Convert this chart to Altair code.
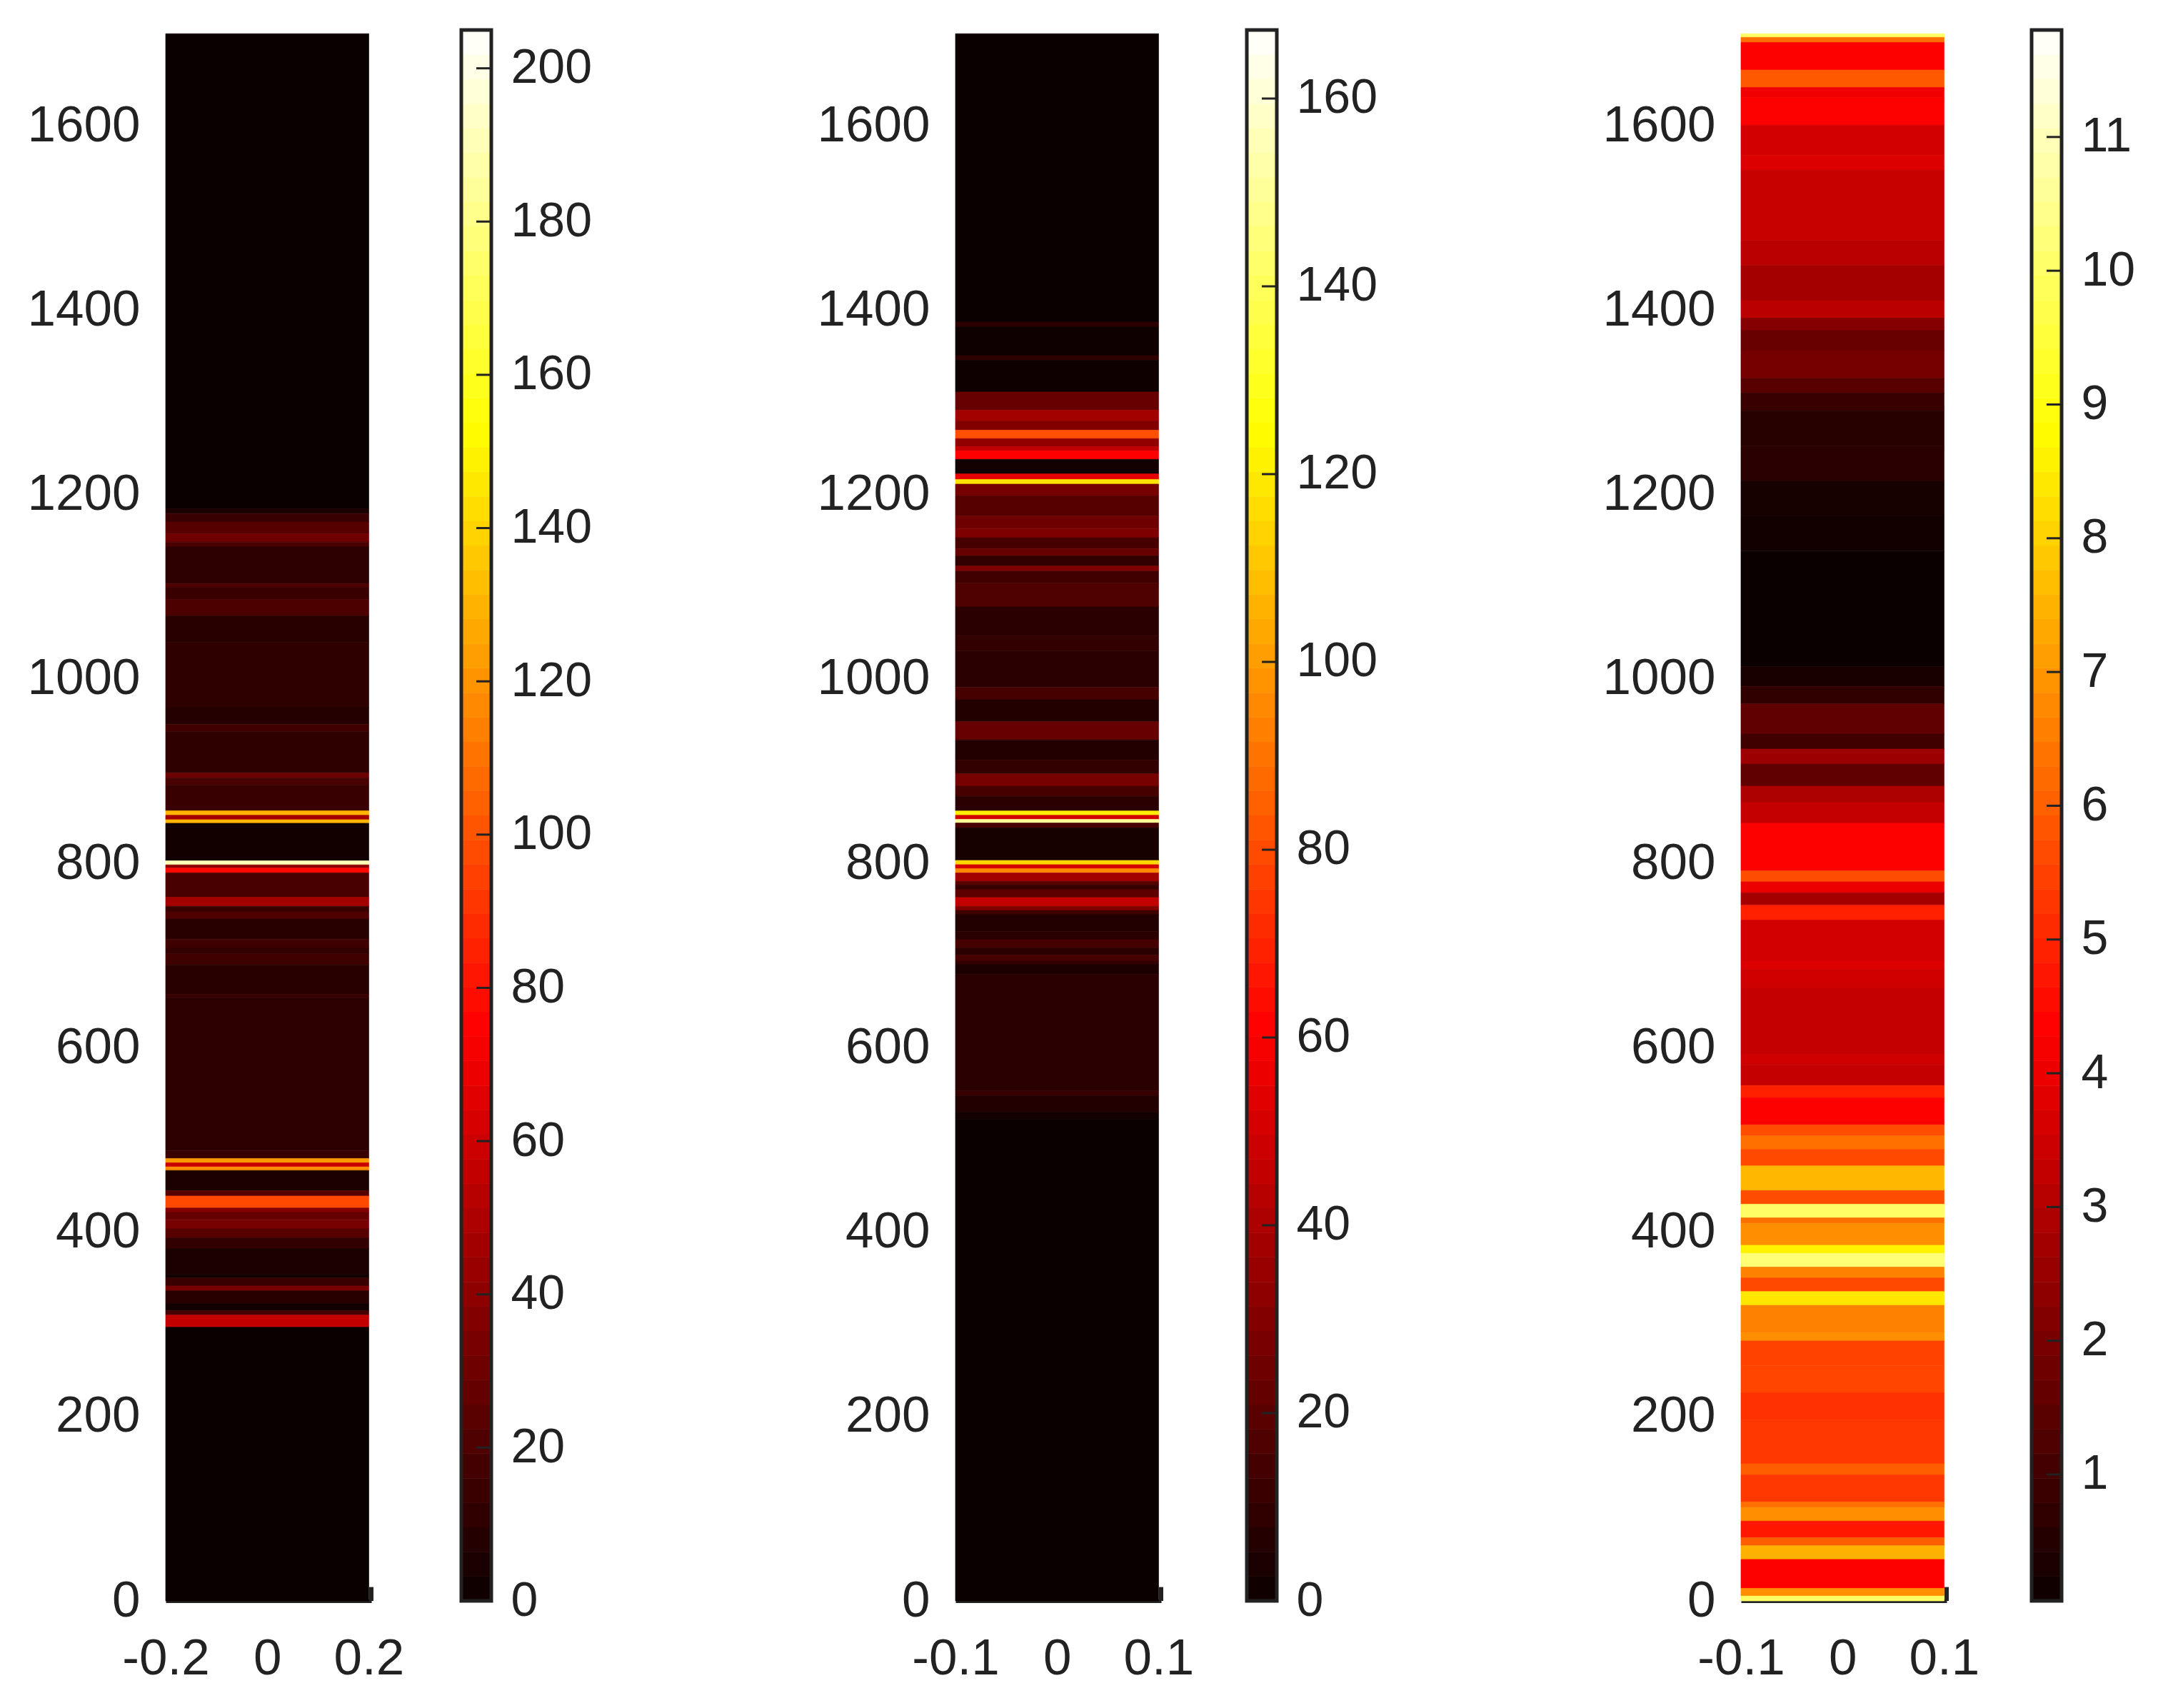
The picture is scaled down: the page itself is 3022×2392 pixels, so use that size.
import altair as alt
import numpy as np
import pandas as pd

# Band edges (depth values, top to bottom) and band intensity
edges1 = [1700,1184.6,1179.5,1170.4,1157.5,1148.5,1143.3,1103.3,1099.4,1086.5,1068.4,1040,969,951,943.2,898,892.9,885.1,857,852.2,847.4,843.5,802.8,798.4,794.9,789.7,763.3,753.4,747.5,739.6,717.8,707.9,702,690,658,654,488.6,479.9,475.2,470.8,466.9,445.1,439.2,426.2,421.4,413.5,403.6,393.8,381.9,354.2,350.3,341.6,336.4,322.6,314.7,310,296.9,0]
values1 = [0,5,14,23,31,19,10,21,14,20,9,11,8,16,11,30,19,14,130,47,130,2,190,40,78,19,47,14,21,9,16,12,16,9,14,10.5,14,122,58,118,5,23,97,37,28,33,23,12,5,2,14,33,9,2,19,56,0]

edges2 = [1700,1387.3,1381.7,1350.9,1345.8,1311.4,1291.6,1280,1269.9,1260.8,1252.1,1247.4,1238.3,1222.5,1216.5,1211.4,1198.8,1177,1163.2,1153.3,1141.5,1133.5,1122.5,1117,1103.9,1078.2,1046.6,1030.8,991.3,977.4,953.7,934,912.2,897.2,883.8,872.7,856.9,852.2,847.8,843.8,838.6,803.2,798.6,794.2,789.6,780.5,776.6,771.5,763,753.4,749,744.4,726.3,717.3,708.2,700.5,694,690.2,679.8,553.3,548.1,530.1,522.3,0]
values2 = [0,8,1,9,1,23,38,30,81,34,46,61,2,55,118,27,19,25,29,15,23,10,29,13,17,8,10,8,15,6,23,6,10,27,15,8,120,50,150,15,3,115,50,95,38,19,11,21,46,30,13,6,8,15,8,15,10,4,8,11,6,2,0]

edges3 = [1700,1696,1690.5,1660.6,1641.6,1630.7,1600.8,1568.2,1551.9,1475.8,1448.6,1410.5,1391.5,1378,1356.2,1326.3,1310,1291,1252.9,1214.9,1176.8,1138.7,1013.7,992,973,940.3,924,907.7,883.8,866,843.5,791.9,780,768.2,754.6,738.6,694,685.2,664.5,593.3,581.5,559,545.9,516.3,504.4,489.6,471.8,445.1,430.3,415.5,409.6,385.8,377,362.1,350.3,335.5,320.6,291,282,255.5,225.8,196.1,148.7,136.8,107.2,101.3,86.5,68.7,59.8,45,13.6,5.2,0]
values3 = [10,6.3,4.3,5.9,4.1,4.3,3.55,3.75,3.35,3.15,2.75,3.15,2.2,1.7,1.9,1.4,0.85,0.55,0.6,0.25,0.18,0.06,0.3,0.7,1.55,1.0,2.6,1.55,2.9,3.3,4.3,5.7,4.0,2.75,4.9,3.55,3.75,3.5,3.3,3.5,3.3,4.9,4.3,5.7,6.3,5.6,7.55,5.7,10,6.3,6.85,8.6,10.2,6.6,5.6,8.4,6.6,6.85,5.5,5.55,5.2,5.3,6.0,5.3,6.3,6.85,4.75,6.0,7.45,4.3,6.85,10]

ticks_y = [0,200,400,600,800,1000,1200,1400,1600]
xlim1 = 0.2
xlim2 = 0.1
xticks1 = [-0.2,0,0.2]
xticks2 = [-0.1,0,0.1]
bar_ticks1 = list(range(0,201,20))
bar_ticks2 = list(range(0,161,20))
bar_ticks3 = [1,2,3,4,5,6,7,8,9,10,11]
bar_range1 = (0,205)
bar_range2 = (0,167.3)
bar_range3 = (0.055,11.8)
hot_colors = ["#0b0000","#ff0000","#ffff00","#ffffff"]
hot_stops = [0,0.365,0.746,1]

FONT = "Liberation Sans"
TXT = "#222222"
H = 2200
W = 288
BW = 42
YTOP = 1704


def color_scale(rng):
    lo, hi = rng
    return alt.Scale(domain=[lo+(hi-lo)*s for s in hot_stops], range=hot_colors, interpolate="rgb", clamp=True)


def panel(edges, values, xlim, xticks, rng):
    df = pd.DataFrame({"top":edges[:-1],"bot":edges[1:],"v":values,"x0":-xlim,"x1":xlim})
    xmax = xlim*1.025
    xs = alt.Scale(domain=[-xlim,xmax],nice=False,zero=False)
    ys = alt.Scale(domain=[0,YTOP],nice=False,zero=False)
    xax = alt.Axis(values=xticks,title=None,grid=False,ticks=False,domainColor=TXT,domainWidth=5,labelFont=FONT,labelFontSize=71,labelColor=TXT,labelPadding=46,labelOverlap=False,labelFlush=False,labelExpr="'' + datum.value")
    yax = alt.Axis(values=ticks_y,title=None,grid=False,ticks=False,domain=False,labelFont=FONT,labelFontSize=71,labelColor=TXT,labelPadding=36,labelOverlap=False,format="d")
    rects = alt.Chart(df).mark_rect(strokeWidth=0.7).encode(
        x=alt.X("x0:Q",scale=xs,axis=xax),x2="x1:Q",
        y=alt.Y("top:Q",scale=ys,axis=yax),y2="bot:Q",
        color=alt.Color("v:Q",scale=color_scale(rng),legend=None),
        stroke=alt.Stroke("v:Q",scale=color_scale(rng),legend=None),
    )
    end = alt.Chart(pd.DataFrame({"xe":[xmax],"y0":[0],"y1":[15]})).mark_rule(color=TXT,strokeWidth=6).encode(
        x=alt.X("xe:Q",scale=xs,axis=xax),y=alt.Y("y0:Q",scale=ys,axis=yax),y2="y1:Q")
    return alt.layer(rects,end).properties(width=W,height=H,view=alt.ViewConfig(stroke=None))


def colorbar(rng,ticks):
    lo,hi = rng
    levels = np.linspace(lo,hi,65)
    df = pd.DataFrame({"a":levels[:-1],"b":levels[1:],"v":(levels[:-1]+levels[1:])/2,"x0":0,"x1":1})
    xs = alt.Scale(domain=[0,1],nice=False)
    ys = alt.Scale(domain=[lo,hi],nice=False,zero=False)
    yax = alt.Axis(values=ticks,orient="right",title=None,grid=False,ticks=False,domain=False,labelFont=FONT,labelFontSize=68,labelColor=TXT,labelPadding=27,labelOverlap=False,labelAlign="left")
    xax = None
    grad = alt.Chart(df).mark_rect(strokeWidth=0.7).encode(
        x=alt.X("x0:Q",scale=xs,axis=xax),x2="x1:Q",
        y=alt.Y("a:Q",scale=ys,axis=yax),y2="b:Q",
        color=alt.Color("v:Q",scale=color_scale(rng),legend=None),
        stroke=alt.Stroke("v:Q",scale=color_scale(rng),legend=None),
    )
    tdf = pd.DataFrame({"t":ticks,"x0":0.5,"x1":1})
    tk = alt.Chart(tdf).mark_rule(color=TXT,strokeWidth=3).encode(
        x=alt.X("x0:Q",scale=xs,axis=xax),x2="x1:Q",y=alt.Y("t:Q",scale=ys,axis=yax))
    fdf = pd.DataFrame({"x0":[0],"x1":[1],"a":[lo],"b":[hi]})
    frame = alt.Chart(fdf).mark_rect(fillOpacity=0,stroke=TXT,strokeWidth=5).encode(
        x=alt.X("x0:Q",scale=xs,axis=xax),x2="x1:Q",y=alt.Y("a:Q",scale=ys,axis=yax),y2="b:Q")
    return alt.layer(grad,tk,frame).properties(width=BW,height=H,view=alt.ViewConfig(stroke=None))


g1 = alt.hconcat(panel(edges1,values1,xlim1,xticks1,bar_range1),colorbar(bar_range1,bar_ticks1),spacing=126,bounds="flush")
g2 = alt.hconcat(panel(edges2,values2,xlim2,xticks2,bar_range2),colorbar(bar_range2,bar_ticks2),spacing=120,bounds="flush")
g3 = alt.hconcat(panel(edges3,values3,xlim2,xticks2,bar_range3),colorbar(bar_range3,bar_ticks3),spacing=119,bounds="flush")

g23 = alt.hconcat(g2,g3,spacing=1100,bounds="flush").resolve_scale(color="independent",stroke="independent")
chart = alt.hconcat(g1,g23,spacing=1106,bounds="flush").resolve_scale(color="independent",stroke="independent").properties(
    padding={"left":30,"top":31,"right":0,"bottom":0},background="white")

chart.save("out.html", embed_options={"renderer": "svg", "actions": False})
